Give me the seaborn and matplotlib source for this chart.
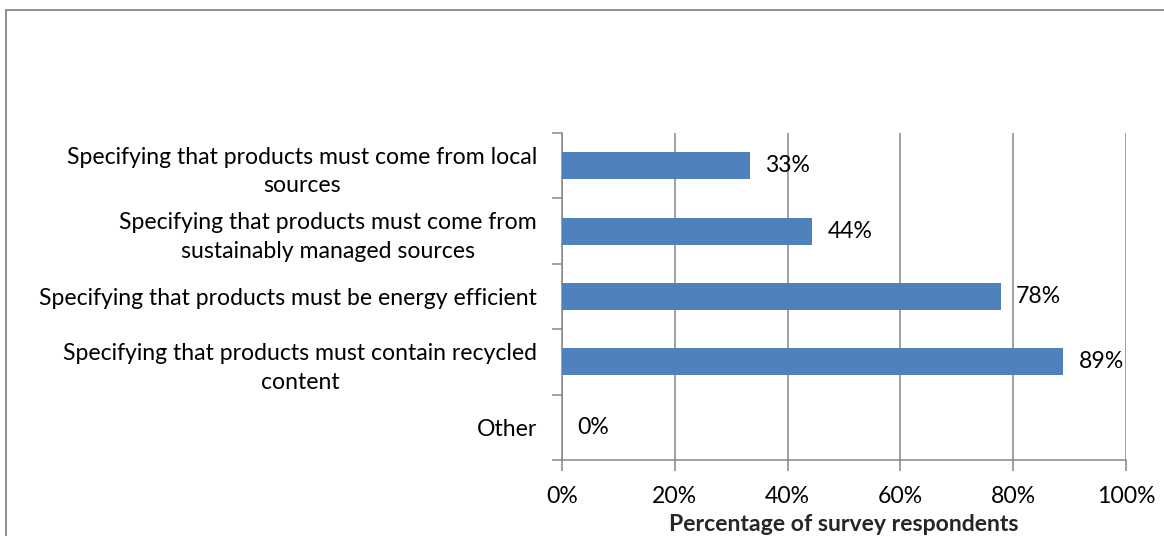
import numpy as np
import pandas as pd
import matplotlib
matplotlib.use("Agg")
import matplotlib.pyplot as plt
from matplotlib.lines import Line2D
import seaborn as sns

categories = [
    "Specifying that products must come from local\nsources",
    "Specifying that products must come from\nsustainably managed sources",
    "Specifying that products must be energy efficient",
    "Specifying that products must contain recycled\ncontent",
    "Other",
]
values = [33.3, 44.4, 77.8, 88.9, 0.0]
value_labels = ["33%", "44%", "78%", "89%", "0%"]
x_ticks = [0, 20, 40, 60, 80, 100]
x_tick_labels = ["0%", "20%", "40%", "60%", "80%", "100%"]
x_title = "Percentage of survey respondents"

sns.set_theme(style="white")
plt.rcParams["font.family"] = ["Lato", "DejaVu Sans"]

FS = 16.6
GRAY = "#868686"
BAR = "#4F81BD"

df = pd.DataFrame({"cat": categories, "val": values})

fig = plt.figure(figsize=(11.64, 5.36), dpi=100)
ax = fig.add_axes([562 / 1164, 1 - 460 / 536, (1126 - 562) / 1164, (460 - 133) / 536])

sns.barplot(data=df, x="val", y="cat", orient="h", color=BAR, width=0.41,
            saturation=1, ax=ax, zorder=3, linewidth=0)

ax.set_xlim(0, 100)
ax.set_ylim(4.5, -0.5)
ax.set_xticks(x_ticks)
ax.set_xticklabels(x_tick_labels, fontsize=FS, color="black")
ax.set_yticks(range(len(categories)))
ax.set_yticklabels(categories, fontsize=FS, color="black", multialignment="center",
                   linespacing=1.45)
ax.set_yticks(np.arange(-0.5, len(categories), 1.0), minor=True)
ax.tick_params(axis="y", which="major", length=0, pad=18)
ax.tick_params(axis="y", which="minor", length=7, width=1.1, color=GRAY, direction="out", left=True)
ax.tick_params(axis="x", which="major", length=8, width=1.1, color=GRAY, direction="out", bottom=True, pad=11)

ax.grid(axis="x", color=GRAY, linewidth=1.1, zorder=0)
ax.set_axisbelow(True)
for s in ["top", "right"]:
    ax.spines[s].set_visible(False)
for s in ["left", "bottom"]:
    ax.spines[s].set_color(GRAY)
    ax.spines[s].set_linewidth(1.1)

ax.set_xlabel(x_title, fontsize=FS, fontweight="bold", labelpad=5)
ax.set_ylabel("")

for i, (v, lab) in enumerate(zip(values, value_labels)):
    ax.annotate(lab, xy=(v, i), xytext=(11, 0), textcoords="offset points",
                ha="left", va="center", fontsize=FS, color="black")

# chart border (top and left edges visible)
fig.add_artist(Line2D([6 / 1164, 6 / 1164], [0, 1 - 10 / 536], transform=fig.transFigure,
                      color=GRAY, linewidth=1.3))
fig.add_artist(Line2D([6 / 1164, 1], [1 - 10 / 536, 1 - 10 / 536], transform=fig.transFigure,
                      color=GRAY, linewidth=1.3))

fig.savefig("out.png", dpi=100)
